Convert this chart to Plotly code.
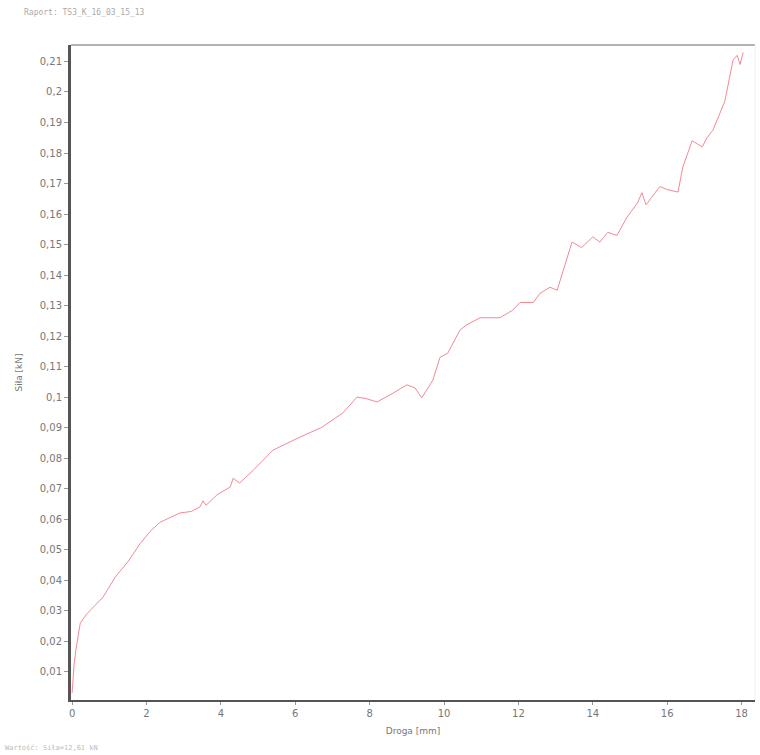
import plotly.graph_objects as go

droga = [0.0, 0.02, 0.05, 0.1, 0.22, 0.4, 0.56, 0.83, 1.16, 1.5, 1.83, 2.1, 2.37, 2.9, 3.2, 3.44, 3.52, 3.6, 3.9, 4.25,
         4.33, 4.5, 4.87, 5.4, 6.13, 6.7, 7.28, 7.66, 7.9, 8.2, 8.63, 9.0, 9.22, 9.4, 9.7, 9.89, 10.1, 10.43,
         10.6, 10.97, 11.5, 11.85, 12.04, 12.4, 12.58, 12.85, 13.04, 13.2, 13.44, 13.7, 13.84, 14.0, 14.19,
         14.4, 14.65, 14.92, 15.2, 15.32, 15.43, 15.6, 15.8, 16.0, 16.29, 16.42, 16.67, 16.94, 17.07, 17.23,
         17.55, 17.77, 17.88, 17.96, 18.04]
sila = [0.003, 0.007, 0.012, 0.017, 0.026, 0.029, 0.031, 0.0344, 0.041, 0.046, 0.052, 0.056, 0.059, 0.062, 0.0625, 0.064,
        0.066, 0.0645, 0.068, 0.0705, 0.0734, 0.0718, 0.076, 0.0826, 0.0869, 0.090, 0.0948, 0.1, 0.0995, 0.0984,
        0.1013, 0.104, 0.103, 0.0997, 0.1056, 0.113, 0.1144, 0.122, 0.1236, 0.126, 0.126, 0.1285, 0.131,
        0.131, 0.134, 0.136, 0.135, 0.1416, 0.1508, 0.149, 0.1505, 0.1525, 0.1508, 0.154, 0.153, 0.159, 0.1636,
        0.167, 0.163, 0.1656, 0.169, 0.168, 0.1672, 0.1754, 0.184, 0.182, 0.185, 0.1875, 0.197, 0.2105, 0.212,
        0.209, 0.213]

x_ticks = [0, 2, 4, 6, 8, 10, 12, 14, 16, 18]
y_ticks = [0.01, 0.02, 0.03, 0.04, 0.05, 0.06, 0.07, 0.08, 0.09, 0.1, 0.11, 0.12, 0.13, 0.14, 0.15, 0.16,
           0.17, 0.18, 0.19, 0.2, 0.21]
y_labels = ["0,01", "0,02", "0,03", "0,04", "0,05", "0,06", "0,07", "0,08", "0,09", "0,1", "0,11", "0,12",
            "0,13", "0,14", "0,15", "0,16", "0,17", "0,18", "0,19", "0,2", "0,21"]

fig = go.Figure()
fig.add_trace(go.Scatter(x=droga, y=sila, mode="lines",
                         line=dict(color="#f28a96", width=1), showlegend=False))

fig.update_layout(
    width=760, height=755,
    margin=dict(l=71, r=5, t=45, b=55),
    paper_bgcolor="white", plot_bgcolor="white",
    font=dict(family="DejaVu Sans", size=10, color="#777"),
    xaxis=dict(range=[-0.03, 18.36], tickvals=x_ticks, ticktext=[str(v) for v in x_ticks],
               showgrid=False, zeroline=False, showline=True, linecolor="#555", linewidth=2,
               ticks="outside", ticklen=3, tickcolor="#999",
               title=dict(text="Droga [mm]", font=dict(size=9, color="#777"), standoff=10)),
    yaxis=dict(range=[0.0007, 0.2154], tickvals=y_ticks, ticktext=y_labels,
               showgrid=False, zeroline=False, showline=True, linecolor="#555", linewidth=3,
               ticks="outside", ticklen=4, tickcolor="#999",
               title=dict(text="Siła [kN]", font=dict(size=9, color="#777"), standoff=16)),
    shapes=[dict(type="line", xref="paper", yref="paper", x0=0, x1=1, y0=1, y1=1,
                 line=dict(color="#999", width=1.5)),
            dict(type="line", xref="paper", yref="paper", x0=1, x1=1, y0=0, y1=1,
                 line=dict(color="#eee", width=1))],
    annotations=[
        dict(text="Raport: TS3_K_16_03_15_13", xref="paper", yref="paper", x=-0.072, y=1.05,
             xanchor="left", yanchor="middle", showarrow=False,
             font=dict(family="DejaVu Sans Mono", size=8, color="#aaa")),
        dict(text="Wartość: Siła=12,61 kN", xref="paper", yref="paper", x=-0.1, y=-0.073,
             xanchor="left", yanchor="middle", showarrow=False,
             font=dict(family="DejaVu Sans Mono", size=7, color="#bbb")),
    ],
)

fig.write_html("out.html")
